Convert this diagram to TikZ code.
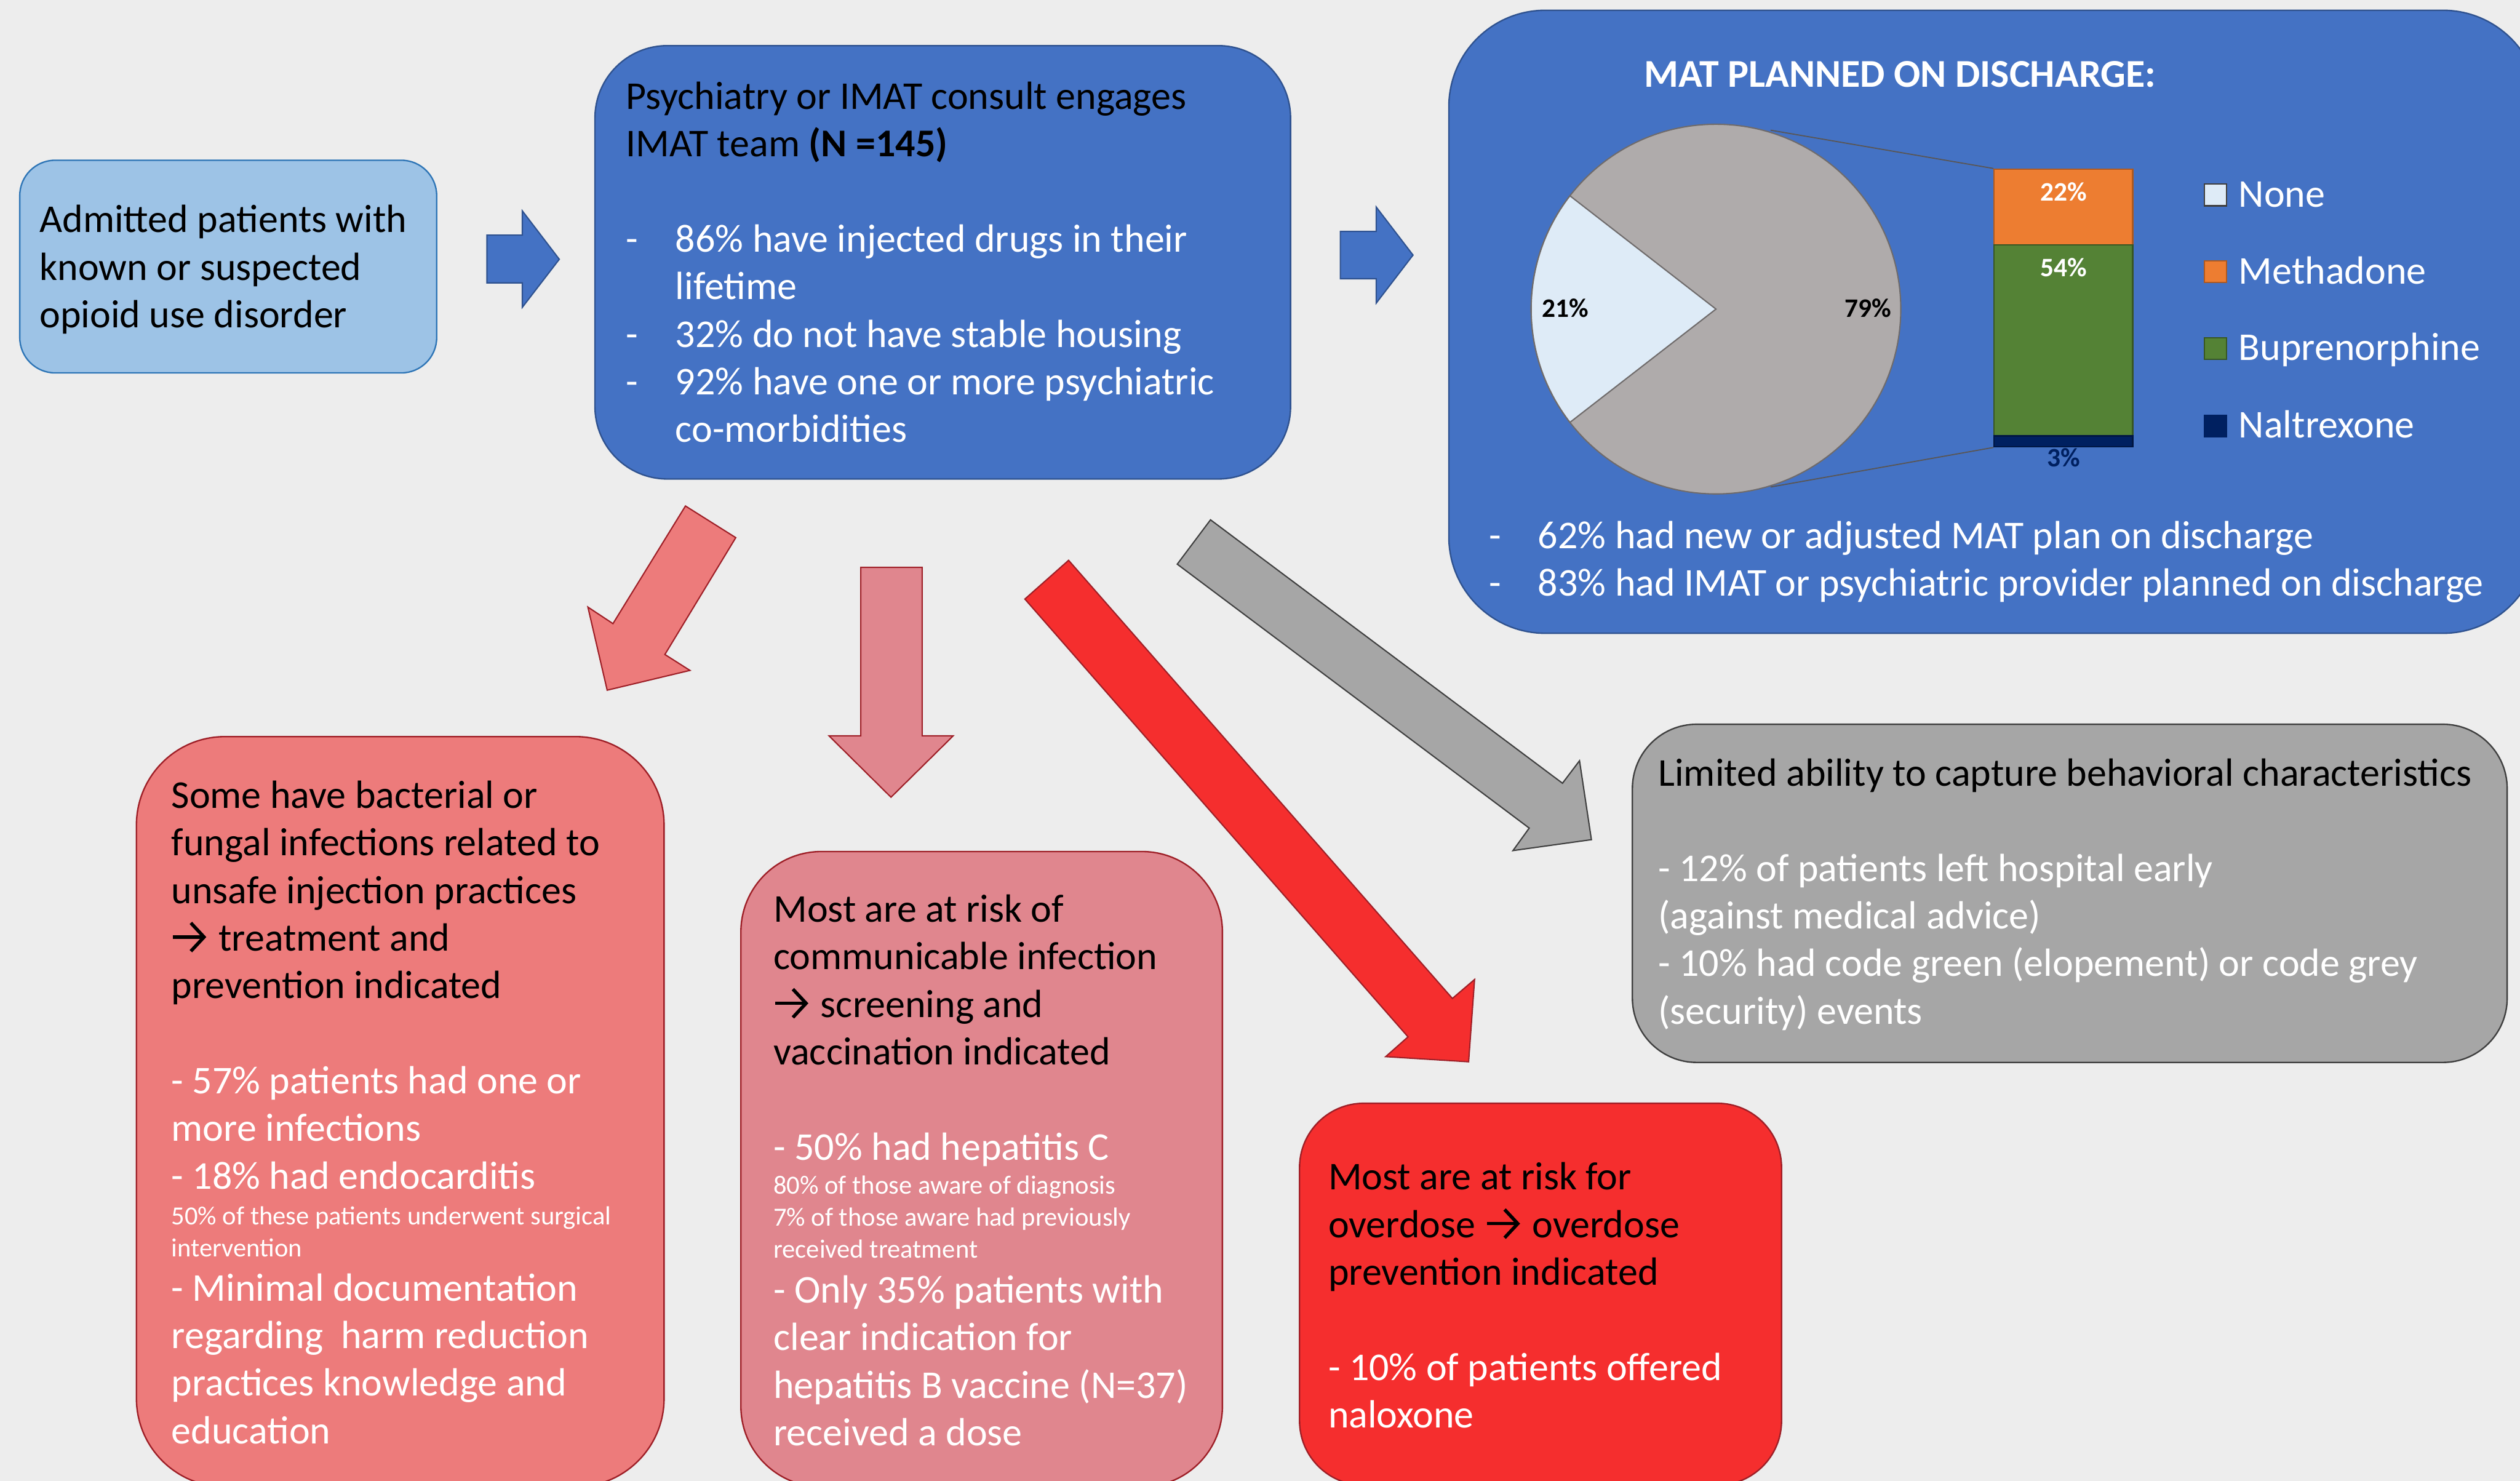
\documentclass[tikz,border=0pt]{standalone}
\usepackage{fontspec}
\setmainfont{Carlito}

\definecolor{bg}{HTML}{EDEDED}
\definecolor{lblue}{HTML}{9DC3E6}
\definecolor{lblueb}{HTML}{2E75B6}
\definecolor{mblue}{HTML}{4472C4}
\definecolor{mblueb}{HTML}{2F528F}
\definecolor{salmon}{HTML}{ED7B7B}
\definecolor{pinkc}{HTML}{E0868E}
\definecolor{redc}{HTML}{F52E2E}
\definecolor{redb}{HTML}{9E1F27}
\definecolor{grayc}{HTML}{A6A6A6}
\definecolor{grayb}{HTML}{3F3F3F}
\definecolor{piegray}{HTML}{AFABAB}
\definecolor{piegrayb}{HTML}{6F6B6B}
\definecolor{nonec}{HTML}{DEEBF7}
\definecolor{orangec}{HTML}{ED7D31}
\definecolor{orangeb}{HTML}{AE5A21}
\definecolor{greenc}{HTML}{548235}
\definecolor{greenb}{HTML}{385723}
\definecolor{navyc}{HTML}{002060}

\newcommand\Bfont{\fontsize{24.5}{29.6}\selectfont}
\newcommand\Sfont{\fontsize{16.3}{19.8}\selectfont}
\newcommand\Lfont{\fontsize{16.6}{20}\selectfont\bfseries}
\newcommand\dashbul{\makebox[30.8pt][l]{-}}
\newcommand\bulind{\hspace*{30.8pt}}
\newcommand\myarr{\hspace{0.5pt}\tikz[baseline=0pt]{\draw[line width=2.1pt, line cap=butt] (0pt,8.6pt) -- (18.5pt,8.6pt);
  \draw[line width=2.1pt, line join=miter, line cap=butt] (11pt,17.4pt) -- (19.2pt,8.6pt) -- (11pt,-0.2pt);}\hspace{2.5pt}}

\tikzset{
  box/.style={draw, rectangle, inner sep=0pt, line width=0.9pt},
  txt/.style={anchor=base west, inner sep=0pt, outer sep=0pt},
  blockarrow/.style={line width=0.8pt, line join=miter},
  legsq/.style={draw, rectangle, inner sep=0pt, minimum size=13.5pt, line width=0.8pt},
}

\begin{document}
\begin{tikzpicture}[x=1pt,y=-1pt]
\useasboundingbox (0,0) rectangle (1568,921.3);
\clip (0,0) rectangle (1568,921.3);
\fill[bg] (0,0) rectangle (1568,921.3);

% ---------- boxes ----------
\node[box, fill=lblue, draw=lblueb, rounded corners=22pt, minimum width=259.4pt, minimum height=132.3pt] (b1) at (142,165.85) {};
\node[box, fill=mblue, draw=mblueb, rounded corners=45pt, minimum width=432.8pt, minimum height=269.6pt] (b2) at (586.6,163.2) {};
\node[box, fill=mblue, draw=mblueb, rounded corners=60pt, minimum width=678.5pt, minimum height=387.6pt] (b3) at (1240.75,200.2) {};
\node[box, fill=salmon, draw=redb, rounded corners=55pt, minimum width=328.3pt, minimum height=466.7pt] (b4) at (249.05,691.65) {};
\node[box, fill=pinkc, draw=redb, rounded corners=50pt, minimum width=299.6pt, minimum height=395.2pt] (b5) at (610.8,727.4) {};
\node[box, fill=redc, draw=redb, rounded corners=40pt, minimum width=299.9pt, minimum height=237.6pt] (b6) at (958.55,805.2) {};
\node[box, fill=grayc, draw=grayb, rounded corners=40pt, minimum width=544.3pt, minimum height=210.4pt] (b7) at (1287.85,555.8) {};

% ---------- block arrows ----------
\draw[blockarrow, fill=mblue, draw=mblueb] (303,146.3) -- (325,146.3) -- (325,131.2) -- (348,161.3) -- (325,191.2) -- (325,176) -- (303,176) -- cycle;
\draw[blockarrow, fill=mblue, draw=mblueb] (834,144) -- (856.3,144) -- (856.3,128.8) -- (879.2,158.7) -- (856.3,188.6) -- (856.3,173.4) -- (834,173.4) -- cycle;
\draw[blockarrow, fill=salmon, draw=redb] (426.5,314.8) -- (457.8,334.5) -- (413.7,407.2) -- (429.3,417.1) -- (377.8,429.4) -- (365.8,377.7) -- (381.4,388.0) -- cycle;
\draw[blockarrow, fill=pinkc, draw=redb] (535.6,353) -- (573.8,353) -- (573.8,457.8) -- (593.1,457.8) -- (554.4,496) -- (515.8,457.8) -- (535.6,457.8) -- cycle;
\draw[blockarrow, fill=redc, draw=redb] (664.9,348.6) -- (903.7,621.2) -- (917.5,609.4) -- (913.8,660.6) -- (862.2,657.4) -- (876.1,645.1) -- (637.7,372.7) -- cycle;
\draw[blockarrow, fill=grayc, draw=grayb] (753.2,323.4) -- (972.2,487.3) -- (982.8,473.3) -- (990.2,522.4) -- (941.4,529.2) -- (951.5,515.2) -- (732.5,351.0) -- cycle;

% ---------- texts ----------
\node[txt] (t1) at (24.7,144.6) {\parbox[t]{300pt}{\Bfont Admitted patients with\\known or suspected\\opioid use disorder}};

\node[txt] (t2) at (389.5,68) {\parbox[t]{500pt}{\Bfont Psychiatry or IMAT consult engages\\
IMAT team \textbf{(N =145)}\\
\mbox{}\\
\color{white}\dashbul 86\% have injected drugs in their\\
\bulind lifetime\\
\dashbul 32\% do not have stable housing\\
\dashbul 92\% have one or more psychiatric\\
\bulind co-morbidities}};

\node[txt, text=white] (t3title) at (1023,54.3) {\Bfont\bfseries MAT PLANNED ON DISCHARGE:};
\node[txt, text=white] (t3) at (926.5,341.3) {\parbox[t]{700pt}{\Bfont\makebox[30.5pt][l]{-}62\% had new or adjusted MAT plan on discharge\\
\makebox[30.5pt][l]{-}83\% had IMAT or psychiatric provider planned on discharge}};

\node[txt] (t4) at (106.7,502.8) {\parbox[t]{400pt}{\Bfont Some have bacterial or\\
fungal infections related to\\
unsafe injection practices\\
\myarr\ treatment and\\
prevention indicated\\
\mbox{}\\
\color{white}- 57\% patients had one or\\
more infections\\
- 18\% had endocarditis\par
\vspace{2.5pt}%
{\Sfont 50\% of these patients underwent surgical\\
intervention\par}%
\vspace{-2pt}%
- Minimal documentation\\
regarding\ \ harm reduction\\
practices knowledge and\\
education\par}};

\node[txt] (t5) at (481.3,573.6) {\parbox[t]{400pt}{\Bfont Most are at risk of\\
communicable infection\\
\myarr\ screening and\\
vaccination indicated\\
\mbox{}\\
\color{white}- 50\% had hepatitis C\par
\vspace{1.5pt}%
{\Sfont 80\% of those aware of diagnosis\\
7\% of those aware had previously\\
received treatment\par}%
\vspace{-1.5pt}%
- Only 35\% patients with\\
clear indication for\\
hepatitis B vaccine (N=37)\\
received a dose\par}};

\node[txt] (t6) at (826.5,740.3) {\parbox[t]{400pt}{\Bfont Most are at risk for\\
overdose \myarr\ overdose\\
prevention indicated\\
\mbox{}\\
\color{white}- 10\% of patients offered\\
naloxone}};

\node[txt] (t7) at (1031.8,489) {\parbox[t]{600pt}{\Bfont Limited ability to capture behavioral characteristics\\
\mbox{}\\
\color{white}- 12\% of patients left hospital early\\
(against medical advice)\\
- 10\% had code green (elopement) or code grey\\
(security) events}};

% ---------- pie of bar chart ----------
\coordinate (pc) at (1067.7,192.3);
\filldraw[fill=piegray, draw=piegrayb, line width=0.8pt] (pc) circle (115pt);
\filldraw[fill=nonec, draw=piegrayb, line width=0.8pt] (pc) -- ++(142.2:115pt) arc (142.2:217.8:115pt) -- cycle;
\coordinate (ptop) at (1101.7,81);
\coordinate (pbot) at (1101.7,303);

\node[box, fill=orangec, draw=orangeb, line width=0.8pt, minimum width=86.3pt, minimum height=47.1pt] (barO) at (1283.85,128.75) {};
\node[box, fill=greenc, draw=greenb, line width=0.8pt, minimum width=86.3pt, minimum height=118.9pt] (barG) at (1283.85,211.75) {};
\node[box, fill=navyc, draw=navyc!70!black, line width=0.8pt, minimum width=86.3pt, minimum height=6.8pt] (barN) at (1283.85,274.6) {};
\draw[piegrayb!80!black, line width=0.7pt] (ptop) -- (barO.north west);
\draw[piegrayb!80!black, line width=0.7pt] (pbot) -- (barN.south west);

\node[anchor=base, inner sep=0pt, text=black] (l21) at (974,197.4) {\Lfont 21\%};
\node[anchor=base, inner sep=0pt, text=black] (l79) at (1162.5,197.4) {\Lfont 79\%};
\node[anchor=base, inner sep=0pt, text=white] (l22) at (1283.9,124.8) {\Lfont 22\%};
\node[anchor=base, inner sep=0pt, text=white] (l54) at (1283.9,171.9) {\Lfont 54\%};
\node[anchor=base, inner sep=0pt, text=navyc] (l3) at (1283.9,290.4) {\Lfont 3\%};

% legend
\node[legsq, fill=nonec, draw=grayb] (sq1) at (1378.5,121.3) {};
\node[legsq, fill=orangec, draw=orangeb] (sq2) at (1378.5,169) {};
\node[legsq, fill=greenc, draw=greenb] (sq3) at (1378.5,216.8) {};
\node[legsq, fill=navyc, draw=navyc] (sq4) at (1378.5,265.2) {};
\node[txt, text=white] (lg1) at (1393,128.7) {\Bfont None};
\node[txt, text=white] (lg2) at (1393,176.5) {\Bfont Methadone};
\node[txt, text=white] (lg3) at (1393,224.2) {\Bfont Buprenorphine};
\node[txt, text=white] (lg4) at (1393,272.5) {\Bfont Naltrexone};
\end{tikzpicture}
\end{document}
